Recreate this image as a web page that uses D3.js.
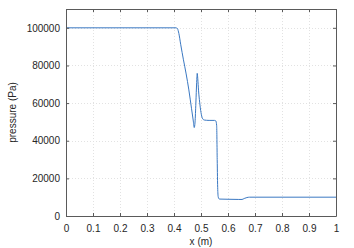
<!DOCTYPE html>
<html><head><meta charset="utf-8">
<script src="https://cdn.jsdelivr.net/npm/d3@7"></script>
<style>body{margin:0;background:#fff}svg{display:block}</style>
</head><body>
<script>
const xPos = [0, 0.40, 0.408, 0.413, 0.418, 0.425, 0.435, 0.445, 0.455, 0.465, 0.471, 0.475, 0.478, 0.481, 0.484, 0.486, 0.488, 0.491, 0.495, 0.50, 0.505, 0.512, 0.53, 0.55, 0.555, 0.558, 0.560, 0.562, 0.564, 0.568, 0.60, 0.64, 0.652, 0.66, 0.67, 0.68, 0.70, 1.0];
const pressure = [100000, 100000, 100000, 99500, 97000, 91000, 83000, 75500, 67000, 57000, 51000, 47000, 50000, 60000, 71000, 75800, 73000, 66500, 60500, 55000, 52000, 51000, 50800, 50800, 50500, 48000, 30000, 14000, 10000, 9000, 8900, 8800, 8800, 9300, 9800, 10000, 10000, 10000];
const xTicks = [0, 0.1, 0.2, 0.3, 0.4, 0.5, 0.6, 0.7, 0.8, 0.9, 1];
const yTicks = [0, 20000, 40000, 60000, 80000, 100000];
const xLabel = "x (m)";
const yLabel = "pressure (Pa)";

const W = 354, H = 248;
const m = {left: 66, right: 18, top: 9, bottom: 32};
const svg = d3.select("body").append("svg").attr("width", W).attr("height", H);
const x = d3.scaleLinear().domain([0, 1]).range([m.left, W - m.right]);
const y = d3.scaleLinear().domain([0, 110000]).range([H - m.bottom, m.top]);
const font = "Liberation Sans, Arial, sans-serif";
const axisCol = "#262626";

// grid
const g = svg.append("g");
g.selectAll(".gx").data(xTicks.slice(1, -1)).join("line")
  .attr("x1", d => x(d) + 0.5).attr("x2", d => x(d) + 0.5)
  .attr("y1", y(110000)).attr("y2", y(0))
  .attr("stroke", "#e2e2e2").attr("stroke-width", 1).attr("stroke-dasharray", "1,2");
g.selectAll(".gy").data(yTicks.slice(1)).join("line")
  .attr("y1", d => Math.round(y(d)) + 0.5).attr("y2", d => Math.round(y(d)) + 0.5)
  .attr("x1", x(0)).attr("x2", x(1))
  .attr("stroke", "#e2e2e2").attr("stroke-width", 1).attr("stroke-dasharray", "1,2");

// line
const line = d3.line().x((d, i) => x(xPos[i])).y(d => y(d)).curve(d3.curveMonotoneX);
svg.append("path").datum(pressure).attr("d", line)
  .attr("fill", "none").attr("stroke", "#3a78c2").attr("stroke-width", 1);

// axes
const ax = svg.append("g").attr("transform", `translate(0,${y(0)})`)
  .call(d3.axisBottom(x).tickValues(xTicks).tickFormat(d3.format("~g")).tickSizeInner(-3).tickSizeOuter(0).tickPadding(9));
const ay = svg.append("g").attr("transform", `translate(${x(0)},0)`)
  .call(d3.axisLeft(y).tickValues(yTicks).tickFormat(d3.format("d")).tickSizeInner(-3).tickSizeOuter(0).tickPadding(6));
const at = svg.append("g").attr("transform", `translate(0,${y(110000)})`)
  .call(d3.axisTop(x).tickValues(xTicks).tickFormat("").tickSizeInner(-3).tickSizeOuter(0));
const ar = svg.append("g").attr("transform", `translate(${x(1)},0)`)
  .call(d3.axisRight(y).tickValues(yTicks).tickFormat("").tickSizeInner(-3).tickSizeOuter(0));
[ax, ay, at, ar].forEach(a => {
  a.selectAll(".domain").attr("stroke", "#5a5a5a");
  a.selectAll(".tick line").attr("stroke", "#5a5a5a");
  a.selectAll("text").attr("font-family", font).attr("font-size", 10).attr("fill", axisCol);
});

svg.append("text").attr("x", (x(0) + x(1)) / 2).attr("y", 245)
  .attr("text-anchor", "middle").attr("font-family", font).attr("font-size", 10).attr("fill", axisCol).text(xLabel);
svg.append("text").attr("transform", `translate(16,${(y(0) + y(110000)) / 2}) rotate(-90)`)
  .attr("text-anchor", "middle").attr("font-family", font).attr("font-size", 10).attr("fill", axisCol).text(yLabel);
</script>
</body></html>
